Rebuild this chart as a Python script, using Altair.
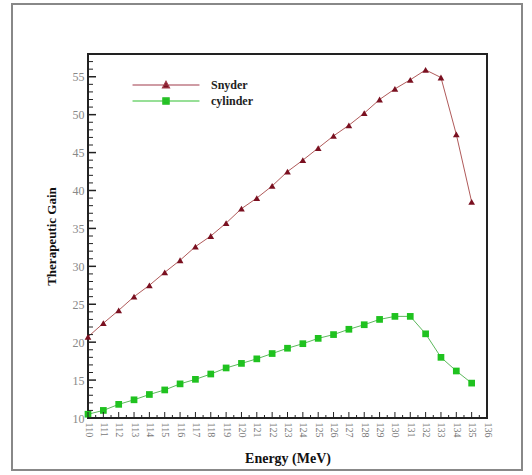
import altair as alt
import pandas as pd

energy = list(range(110, 136))
snyder = [20.7, 22.5, 24.2, 26.0, 27.5, 29.2, 30.8, 32.6, 34.0, 35.7, 37.6, 39.0, 40.6,
          42.5, 44.0, 45.6, 47.2, 48.6, 50.2, 52.0, 53.4, 54.6, 55.9, 54.9, 47.4, 38.5]
cylinder = [10.5, 11.0, 11.8, 12.4, 13.1, 13.7, 14.5, 15.1, 15.8, 16.6, 17.2, 17.8, 18.5,
            19.2, 19.8, 20.5, 21.0, 21.7, 22.3, 23.0, 23.4, 23.4, 21.1, 18.0, 16.2, 14.6]
series = ["Snyder", "cylinder"]
x_ticks = list(range(110, 137))
x_minor = [v + 0.5 for v in range(110, 136)]
y_major = list(range(10, 56, 5))
y_minor = [v for v in range(10, 59) if v % 5 != 0]

df = pd.DataFrame({
    "Energy": energy * 2,
    "Gain": snyder + cylinder,
    "Series": ["Snyder"] * len(energy) + ["cylinder"] * len(energy),
})
df["Legend"] = df["Series"]

W, H = 399, 364
xs = alt.Scale(domain=[110, 136], nice=False, zero=False)
ys = alt.Scale(domain=[10, 58], nice=False, zero=False)
serif = "Liberation Serif"

line_colors = alt.Scale(domain=series, range=["#b05a5a", "#5cb85c"])
mark_colors = alt.Scale(domain=series, range=["#7a1020", "#1fc21f"])
shapes = alt.Scale(domain=series, range=["triangle-up", "square"])

x_axis = alt.Axis(title="Energy (MeV)", values=x_ticks, labelAngle=90,
                  labelAlign="left", labelBaseline="middle",
                  ticks=False, domain=False, grid=False, labelOverlap=False,
                  labelColor="#777777", labelFont=serif, labelFontSize=10,
                  labelPadding=4, titleFont=serif, titleFontSize=14,
                  titleFontWeight="bold", titleColor="#111111", titlePadding=14,
                  labelFlush=False, labelBound=False)
y_axis = alt.Axis(title="Therapeutic Gain", values=y_major,
                  ticks=False, domain=False, grid=False, labelOverlap=False,
                  labelColor="#888888", labelFont=serif, labelFontSize=12,
                  labelPadding=4, titleFont=serif, titleFontSize=13,
                  titleFontWeight="bold", titleColor="#111111", titlePadding=14,
                  labelFlush=False)


def X(field):
    return alt.X(field, scale=xs, axis=x_axis, title="Energy (MeV)")


def Y(field):
    return alt.Y(field, scale=ys, axis=y_axis, title="Therapeutic Gain")


base = alt.Chart(df)
lines = base.mark_line(strokeWidth=1).encode(
    x=X("Energy:Q"), y=Y("Gain:Q"),
    color=alt.Color("Series:N", scale=line_colors, legend=None),
    detail="Series:N",
)
points = base.mark_point(filled=True, opacity=1, size=45).encode(
    x=X("Energy:Q"), y=Y("Gain:Q"),
    fill=alt.Fill("Series:N", scale=mark_colors, legend=None),
    shape=alt.Shape("Series:N", scale=shapes, legend=None),
)

# legend layer: invisible marks, visible legend only
leg_paths = [
    "M-4,0L4,0M0,-0.45L0.42,0.35L-0.42,0.35Z",
    "M-4,0L4,0M-0.38,-0.38L0.38,-0.38L0.38,0.38L-0.38,0.38Z",
]
leg_props = dict(title=None, orient="none", legendX=69, legendY=22,
                 labelFont=serif, labelFontSize=12, labelFontWeight="bold",
                 labelColor="#222222", labelOffset=36,
                 symbolStrokeWidth=1.2, rowPadding=1,
                 symbolOpacity=1, symbolSize=280)
legend_layer = base.mark_point(size=280, strokeWidth=1, opacity=0).encode(
    x=X("Energy:Q"), y=Y("Gain:Q"),
    stroke=alt.Stroke("Legend:N", scale=alt.Scale(domain=series, range=["#a03a4a", "#30c030"]),
                      legend=alt.Legend(**leg_props)),
    fill=alt.Fill("Legend:N", scale=alt.Scale(domain=series, range=["#7a1020", "#1fc21f"]),
                  legend=alt.Legend(**leg_props)),
    shape=alt.Shape("Legend:N", scale=alt.Scale(domain=series, range=leg_paths),
                    legend=alt.Legend(**leg_props)),
)

# inward ticks
xt_major = alt.Chart(pd.DataFrame({"v": x_ticks})).mark_rule(color="#222222", strokeWidth=1).encode(
    x=X("v:Q"), y=alt.value(H), y2=alt.value(H - 6))
xt_minor = alt.Chart(pd.DataFrame({"v": x_minor})).mark_rule(color="#222222", strokeWidth=1).encode(
    x=X("v:Q"), y=alt.value(H), y2=alt.value(H - 3))
yt_major = alt.Chart(pd.DataFrame({"v": y_major})).mark_rule(color="#222222", strokeWidth=1.5).encode(
    y=Y("v:Q"), x=alt.value(0), x2=alt.value(8))
yt_minor = alt.Chart(pd.DataFrame({"v": y_minor})).mark_rule(color="#222222", strokeWidth=1).encode(
    y=Y("v:Q"), x=alt.value(0), x2=alt.value(5))

# outer frame of the figure
frame = alt.Chart(pd.DataFrame({"a": [0]})).mark_rect(
    fill="transparent", stroke="#888888", strokeWidth=2).encode(
    x=alt.value(-76), x2=alt.value(W + 35), y=alt.value(-50), y2=alt.value(H + 52))

chart = alt.layer(lines, frame, points, legend_layer, xt_major, xt_minor, yt_major, yt_minor).resolve_scale(
    color="independent", fill="independent", shape="independent", stroke="independent"
).properties(
    width=W, height=H,
    autosize=alt.AutoSizeParams(type="none"),
    padding={"left": 88, "top": 54, "right": 45, "bottom": 57},
    background="white",
).configure_view(stroke="#222222", strokeWidth=2)

chart.save("out.html", embed_options={"renderer": "svg", "actions": False})
